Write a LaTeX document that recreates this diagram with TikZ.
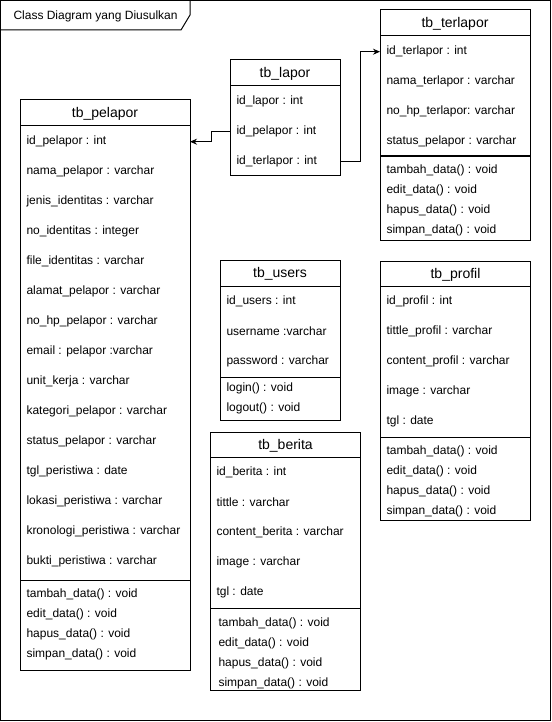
\documentclass[tikz,border=0pt]{standalone}
\usepackage{fontspec}
\setmainfont{Liberation Sans}
\usetikzlibrary{arrows.meta}
\begin{document}
\begin{tikzpicture}[x=1pt,y=-1pt, line width=1pt,
  boxst/.style={draw, line width=1pt, anchor=north west, inner sep=0pt, outer sep=0pt},
  hdr/.style={font=\fontsize{14}{16}\selectfont, inner sep=0pt, yshift=-1pt},
  rowt/.style={anchor=west, inner sep=0pt, font=\fontsize{12}{14}\selectfont, yshift=-1.2pt},
  arr/.style={line width=1pt, -{Stealth[length=7pt,width=6pt]}}]
\useasboundingbox (0,0) rectangle (551,722);
% frame
\draw (0.5,0.5) rectangle (550,720.5);
\draw (0.5,0.5) -- (190,0.5) -- (190,15) -- (181,30) -- (0.5,30);
\node[anchor=west, inner sep=0pt, font=\fontsize{12}{14}\selectfont] (title) at (13,16) {Class Diagram yang Diusulkan};

% tb_pelapor
\node[boxst, minimum width=170pt, minimum height=570pt] (pel) at (20,100) {};
\node[hdr] (pelh) at (105,113) {tb\_pelapor};
\draw (20,126) -- (190,126);
\draw (20,580.5) -- (190,580.5);
\foreach \t [count=\i from 0] in {id\_pelapor : int, nama\_pelapor : varchar, jenis\_identitas : varchar, no\_identitas : integer, file\_identitas : varchar, alamat\_pelapor : varchar, no\_hp\_pelapor : varchar, email : pelapor :varchar, unit\_kerja : varchar, kategori\_pelapor : varchar, status\_pelapor : varchar, tgl\_peristiwa : date, lokasi\_peristiwa : varchar, kronologi\_peristiwa : varchar, bukti\_peristiwa : varchar}
  \node[rowt] (pelr\i) at (26,{140.5+30*\i}) {\t};
\foreach \t [count=\i from 0] in {tambah\_data() : void, edit\_data() : void, hapus\_data() : void, simpan\_data() : void}
  \node[rowt] (pelm\i) at (26,{593.5+20*\i}) {\t};

% tb_lapor
\node[boxst, minimum width=110pt, minimum height=116pt] (lap) at (230,60) {};
\node[hdr] (laph) at (285,73) {tb\_lapor};
\draw (230,86) -- (340,86);
\foreach \t [count=\i from 0] in {id\_lapor : int, id\_pelapor : int, id\_terlapor : int}
  \node[rowt] (lapr\i) at (236,{100+30*\i}) {\t};

% tb_terlapor
\node[boxst, minimum width=150pt, minimum height=230pt] (ter) at (380,10) {};
\node[hdr] (terh) at (455,23) {tb\_terlapor};
\draw (380,36) -- (530,36);
\draw[line width=2pt] (380,156.5) -- (530,156.5);
\foreach \t [count=\i from 0] in {id\_terlapor : int, nama\_terlapor : varchar, no\_hp\_terlapor: varchar, status\_pelapor : varchar}
  \node[rowt] (terr\i) at (386,{50.5+30*\i}) {\t};
\foreach \t [count=\i from 0] in {tambah\_data() : void, edit\_data() : void, hapus\_data() : void, simpan\_data() : void}
  \node[rowt] (term\i) at (386,{169+20*\i}) {\t};

% tb_users
\node[boxst, minimum width=120pt, minimum height=160pt] (usr) at (220,260) {};
\node[hdr] (usrh) at (280,273) {tb\_users};
\draw (220,286) -- (340,286);
\draw (220,377) -- (340,377);
\foreach \t [count=\i from 0] in {id\_users : int, username :varchar, password : varchar}
  \node[rowt] (usrr\i) at (226,{300+30*\i}) {\t};
\foreach \t [count=\i from 0] in {login() : void, logout() : void}
  \node[rowt] (usrm\i) at (226,{387.5+20*\i}) {\t};

% tb_profil
\node[boxst, minimum width=150pt, minimum height=259pt] (pro) at (380.5,261) {};
\node[hdr] (proh) at (455.5,273.5) {tb\_profil};
\draw (380.5,286) -- (530.5,286);
\draw (380.5,437) -- (530.5,437);
\foreach \t [count=\i from 0] in {id\_profil : int, tittle\_profil : varchar, content\_profil : varchar, image : varchar, tgl : date}
  \node[rowt] (pror\i) at (386,{300+30*\i}) {\t};
\foreach \t [count=\i from 0] in {tambah\_data() : void, edit\_data() : void, hapus\_data() : void, simpan\_data() : void}
  \node[rowt] (prom\i) at (386,{450+20*\i}) {\t};

% tb_berita
\node[boxst, minimum width=150pt, minimum height=258pt] (ber) at (210.5,432.5) {};
\node[hdr] (berh) at (285.5,445) {tb\_berita};
\draw (210.5,457.5) -- (360.5,457.5);
\draw (210.5,608.5) -- (360.5,608.5);
\foreach \t [count=\i from 0] in {id\_berita : int, tittle : varchar, content\_berita : varchar, image : varchar, tgl : date}
  \node[rowt] (berr\i) at (216,{471.5+30*\i}) {\t};
\foreach \t [count=\i from 0] in {tambah\_data() : void, edit\_data() : void, hapus\_data() : void, simpan\_data() : void}
  \node[rowt] (berm\i) at (218,{622.5+20*\i}) {\t};

% connectors
\draw[arr] (lapr1 -| lap.west) -- ++(-19,0) |- (pelr0 -| pel.east);
\draw[arr] (lapr2 -| lap.east) -- ++(20,0) |- (terr0 -| ter.west);
\end{tikzpicture}
\end{document}
